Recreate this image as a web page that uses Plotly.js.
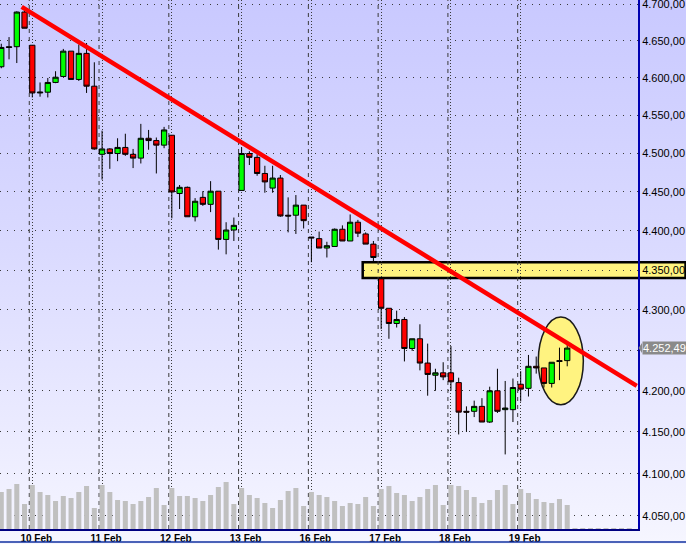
<!DOCTYPE html>
<html><head><meta charset="utf-8">
<script src="https://cdn.plot.ly/plotly-3.0.1.min.js"></script>
<style>
html,body{margin:0;padding:0;background:#fff;}
#chart{width:686px;height:544px;background:linear-gradient(to bottom,#C9C9FF 0%,#DADAFF 45%,#F4F4FF 97%,#F6F6FF 100%);}
</style></head><body><div id="chart"></div>
<script>
// Hourly candles (9 per session)
const openP  = [4615,4642,4642,4689,4644,4580,4581,4594,4602,4636,4598,4633,4589,4499,4506,4500,4508,4499,4494,4520,4517,4511,4524,4448,4456,4418,4443,4434,4451,4389,4401,4452,4500,4495,4474,4455,4468,4420,4420,4433,4392,4390,4378,4380,4402,4387,4411,4396,4383,4339,4302,4283,4288,4252,4264,4234,4219,4222,4222,4210,4175,4175,4181,4162,4200,4177,4177,4208,4203,4230,4228,4209,4237,4237];
const highP  = [4646,4655,4690,4693,4644,4594,4600,4609,4639,4636,4645,4647,4621,4530,4507,4520,4526,4506,4539,4531,4521,4535,4524,4459,4457,4442,4451,4464,4451,4411,4417,4508,4503,4499,4484,4484,4472,4443,4446,4433,4392,4399,4386,4403,4407,4421,4414,4398,4387,4340,4302,4299,4291,4264,4282,4258,4227,4235,4255,4216,4181,4188,4191,4205,4227,4212,4215,4224,4244,4242,4228,4235,4253,4261];
const lowP   = [4613,4625,4620,4667,4574,4575,4574,4593,4602,4598,4596,4580,4505,4466,4480,4490,4497,4481,4487,4505,4474,4507,4416,4428,4418,4412,4432,4424,4376,4370,4387,4452,4485,4471,4449,4449,4418,4398,4396,4403,4360,4378,4366,4380,4387,4387,4392,4383,4361,4276,4264,4278,4236,4249,4225,4194,4200,4213,4200,4147,4150,4168,4162,4161,4173,4123,4162,4187,4193,4221,4204,4204,4213,4230];
const closeP = [4641,4641,4689,4667,4580,4581,4594,4601,4636,4598,4633,4589,4506,4506,4500,4508,4499,4494,4520,4517,4511,4531,4450,4456,4418,4438,4434,4451,4389,4401,4407,4500,4495,4474,4463,4468,4419,4419,4433,4413,4391,4378,4381,4402,4387,4411,4397,4383,4366,4302,4283,4288,4252,4264,4234,4220,4222,4217,4211,4174,4174,4181,4162,4200,4175,4179,4204,4202,4230,4228,4209,4235,4236,4252.49];
// volume per candle (last 8 entries = empty future slots)
const volume = [3700,4000,4500,2500,4400,3700,3400,2800,3300,3100,3700,4300,2100,4400,3700,2900,2800,2500,2800,3200,4100,2400,4100,3300,3300,3100,2800,3400,4200,4700,2500,4100,3400,3100,2600,2100,2900,3800,4100,2300,3700,3400,3200,2800,2300,2600,2500,3200,2300,4000,4300,3600,3400,2800,3200,4000,4400,2400,4400,4300,3900,3200,2600,2900,3900,4400,2500,4000,3600,3000,2700,2600,3000,2400,100,100,100,100,100,100,100,100];
// session starts (candle index) and their labels
const dayTicks  = [4,13,22,31,40,49,58,67];
const dayLabels = ['10 Feb','11 Feb','12 Feb','13 Feb','16 Feb','17 Feb','18 Feb','19 Feb'];
const priceTicks = [4050,4100,4150,4200,4250,4300,4350,4400,4450,4500,4550,4600,4650,4700];
const priceLabels = ['4.050,00','4.100,00','4.150,00','4.200,00','','4.300,00','4.350,00','4.400,00','4.450,00','4.500,00','4.550,00','4.600,00','4.650,00','4.700,00'];
// drawn annotations
const trendX = [2.63, 81.97];
const trendY = [4696, 4206];
const zoneLevel = [4340, 4360];
const ovalX = [69.27, 75.08];
const ovalY = [4183, 4291];

const xc = closeP.map((_, i) => i);
const xv = volume.map((_, i) => i);

const yr = [3.605793, 3.672603];
const lastClose = closeP[closeP.length - 1];
function fmt(v){
  const s = v.toFixed(2).split('.');
  return s[0].replace(/\B(?=(\d{3})+(?!\d))/g, '.') + ',' + s[1];
}
const pxPerDec = 529 / (yr[1] - yr[0]);
const vTop = lastClose * Math.pow(10, 5 / pxPerDec);
const vBot = lastClose / Math.pow(10, 5 / pxPerDec);

const traces = [
  {type:'bar', x:xv, y:volume, yaxis:'y2', width:0.65, marker:{color:'#C0C0C0', line:{width:0}}, hoverinfo:'skip'},
  {type:'candlestick', x:xc, open:openP, high:highP, low:lowP, close:closeP,
   increasing:{line:{color:'#000000', width:1}, fillcolor:'#00FF00'},
   decreasing:{line:{color:'#000000', width:1}, fillcolor:'#FF0000'},
   whiskerwidth:0, hoverinfo:'skip'},
  {type:'scatter', mode:'lines', x:trendX, y:trendY, line:{color:'#FF0000', width:4.5}, hoverinfo:'skip'}
];

const shapes = [
  {type:'rect', xref:'paper', yref:'y', x0:0.5685, x1:1.0745, y0:zoneLevel[0], y1:zoneLevel[1],
   fillcolor:'#FFF380', line:{color:'#000000', width:2.5}, layer:'below'}
];
dayTicks.forEach(t => shapes.push({type:'line', xref:'x', yref:'paper', x0:t-0.39, x1:t-0.39, y0:0, y1:1,
  line:{color:'#3a3a3a', width:1, dash:'4px,4px'}, layer:'below'}));
shapes.push({type:'circle', xref:'x', yref:'y', x0:ovalX[0], x1:ovalX[1], y0:ovalY[0], y1:ovalY[1],
  fillcolor:'#FFF380', line:{color:'#1a1a1a', width:1.5}, layer:'between'});
shapes.push({type:'line', xref:'paper', yref:'paper', x0:0, x1:1.08, y0:-0.0246, y1:-0.0246,
  line:{color:'#1030a0', width:1.5}});
shapes.push({type:'path', xref:'paper', yref:'y',
  path:'M '+(1+0.5/638)+' '+lastClose+' L '+(1+4/638)+' '+vTop+' L '+(1+4/638)+' '+vBot+' Z',
  fillcolor:'#8a8a8a', line:{width:0}, layer:'above'});

const layout = {
  width:686, height:544,
  margin:{l:0, r:48, t:0, b:15, pad:0},
  paper_bgcolor:'rgba(0,0,0,0)', plot_bgcolor:'rgba(0,0,0,0)',
  separators:',.',
  showlegend:false,
  boxgap:0.32, boxgroupgap:0,
  font:{family:'Liberation Sans, Arial, sans-serif', color:'#000'},
  xaxis:{range:[-0.166, 82.13], tickmode:'array', tickvals:dayTicks, ticktext:dayLabels,
    showgrid:true, gridcolor:'#3a3a3a', griddash:'1px,2px', gridwidth:1, zeroline:false,
    showline:true, linecolor:'#000080', linewidth:1.5, ticks:'',
    tickfont:{family:'Liberation Sans, Arial, sans-serif', size:10, color:'#000', weight:'bold'},
    ticklabelshift:4, ticklabelstandoff:-1, rangeslider:{visible:false}, fixedrange:true},
  yaxis:{type:'log', side:'right', range:yr, tickmode:'array', tickvals:priceTicks, ticktext:priceLabels,
    showgrid:true, gridcolor:'#3a3a3a', griddash:'1px,6px', gridwidth:1, zeroline:false,
    showline:true, linecolor:'#0000b0', linewidth:2, ticks:'', ticklabeloverflow:'allow',
    tickfont:{family:'Liberation Sans, Arial, sans-serif', size:11, color:'#000'}, fixedrange:true},
  yaxis2:{overlaying:'y', range:[0, 52900], visible:false, fixedrange:true},
  shapes:shapes,
  annotations:[{xref:'paper', yref:'y', x:1, y:Math.log10(lastClose), xanchor:'left', yanchor:'middle',
    xshift:3.5, text:fmt(lastClose), showarrow:false, bgcolor:'#8a8a8a', borderpad:0,
    font:{family:'Liberation Sans, Arial, sans-serif', size:11, color:'#ffffff'}}]
};

Plotly.newPlot('chart', traces, layout, {staticPlot:true, displayModeBar:false});
</script></body></html>
